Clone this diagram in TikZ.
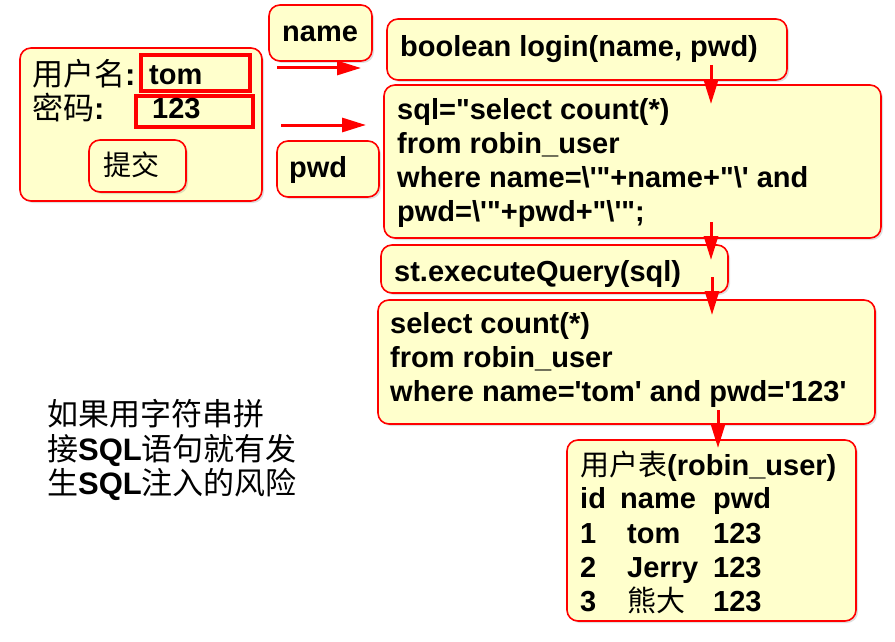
\documentclass[tikz,border=0pt]{standalone}
\usepackage{fontspec}
\newfontfamily\arial{Liberation Sans}
\newfontfamily\cjk{Noto Sans CJK SC}
\usetikzlibrary{arrows.meta,shadows}
\definecolor{boxfill}{RGB}{255,255,204}
\definecolor{boxred}{RGB}{255,0,0}
\newcommand\dq{\symbol{34}}
\newcommand\sq{\symbol{39}}
\tikzset{
  box/.style={draw=boxred, line width=1.6pt, fill=boxfill, rounded corners=11pt,
    drop shadow={opacity=0.25, shadow xshift=2pt, shadow yshift=-2pt}},
  field/.style={draw=boxred, line width=3.2pt, fill=boxfill,
    drop shadow={opacity=0.35, shadow xshift=2pt, shadow yshift=-2pt}},
  txt/.style={anchor=west, inner sep=0pt, align=left, font=\fontsize{29}{34}\selectfont\arial\bfseries},
  cell/.style={anchor=west, inner sep=0pt, text height=20.8pt, text depth=0pt, font=\fontsize{29}{34}\selectfont\arial\bfseries},
  cjktxt/.style={anchor=west, inner sep=0pt, align=left, font=\fontsize{31}{34.5}\selectfont\cjk},
  arr/.style={draw=boxred, line width=3pt, -{Triangle[length=24pt,width=14pt]}}
}
\begin{document}
\begin{tikzpicture}[x=1pt,y=-1pt]
\path[use as bounding box] (0,0) rectangle (895,642);
% form
\node[box, minimum width=242pt, minimum height=153pt] (form) at (141,124.5) {};
\node[field, minimum width=109pt, minimum height=36pt, inner sep=0pt] (tomf) at (195.5,73) {};
\node[field, minimum width=117pt, minimum height=31pt, inner sep=0pt] (pwdf) at (194.5,111.5) {};
\node[box, minimum width=97pt, minimum height=52pt] (submit) at (137.5,166) {};
\node[cjktxt] (lname) at (32,74) {用户名{\arial\bfseries:}};
\node[cjktxt] (lpwd) at (32,108) {密码{\arial\bfseries:}};
\node[cell] (tomt) at (149,74) {tom};
\node[cell] (pwdt) at (152,108) {123};
\node[cjktxt, font=\fontsize{28}{30}\selectfont\cjk] (subt) at (103,165) {提交};
% parameter labels
\node[box, minimum width=103pt, minimum height=56pt] (namebox) at (320.5,33) {};
\node[cell] (namet) at (282,31) {name};
\node[box, minimum width=102pt, minimum height=56pt] (pwdbox) at (328,169) {};
\node[cell] (pwdlt) at (289,167) {pwd};
% code boxes
\node[box, minimum width=400pt, minimum height=61pt] (login) at (587,49.5) {};
\node[cell] (logint) at (400,46) {boolean login(name, pwd)};
\node[box, minimum width=497pt, minimum height=153pt] (sqlbox) at (632.5,161.5) {};
\node[txt] (sqlt) at (397,163) {sql=\dq select count(*)\\from robin\_user\\where name=\textbackslash\sq\dq+name+\dq\textbackslash\sq{} and\\pwd=\textbackslash\sq\dq+pwd+\dq\textbackslash\sq\dq;};
\node[box, minimum width=347pt, minimum height=48pt] (stbox) at (554.5,269) {};
\node[cell] (stt) at (394,271) {st.executeQuery(sql)};
\node[box, minimum width=497pt, minimum height=124pt] (selbox) at (626.5,362) {};
\node[txt] (selt) at (390,360) {select count(*)\\from robin\_user\\where name=\sq tom\sq{} and pwd=\sq 123\sq};
\node[box, minimum width=289pt, minimum height=181pt] (tbl) at (711.5,530.5) {};
\node[cell] (tblh) at (580,465) {{\cjk\mdseries 用户表}(robin\_user)};
\node[cell] (h1) at (580,498) {id};
\node[cell] (h2) at (620,498) {name};
\node[cell] (h3) at (713,498) {pwd};
\node[cell] (r1a) at (580,533) {1};
\node[cell] (r1b) at (627,533) {tom};
\node[cell] (r1c) at (713,533) {123};
\node[cell] (r2a) at (580,567) {2};
\node[cell] (r2b) at (627,567) {Jerry};
\node[cell] (r2c) at (713,567) {123};
\node[cell] (r3a) at (580,601) {3};
\node[cell] (r3b) at (627,601) {{\cjk\mdseries 熊大}};
\node[cell] (r3c) at (713,601) {123};
% note
\node[cjktxt] (note) at (47,450) {如果用字符串拼\\接{\arial\bfseries SQL}语句就有发\\生{\arial\bfseries SQL}注入的风险};
% arrows
\coordinate (a1s) at (277,68); \coordinate (a1e) at (361,68);
\coordinate (a2s) at (281,125); \coordinate (a2e) at (366,125);
\coordinate (d1s) at (711,65); \coordinate (d1e) at (711,104);
\coordinate (d2s) at (711,222); \coordinate (d2e) at (711,260);
\coordinate (d3s) at (712,277); \coordinate (d3e) at (712,315);
\coordinate (d4s) at (718,410); \coordinate (d4e) at (718,448);
\draw[arr] (a1s) -- (a1e);
\draw[arr] (a2s) -- (a2e);
\draw[arr] (d1s) -- (d1e);
\draw[arr] (d2s) -- (d2e);
\draw[arr] (d3s) -- (d3e);
\draw[arr] (d4s) -- (d4e);
\end{tikzpicture}
\end{document}
